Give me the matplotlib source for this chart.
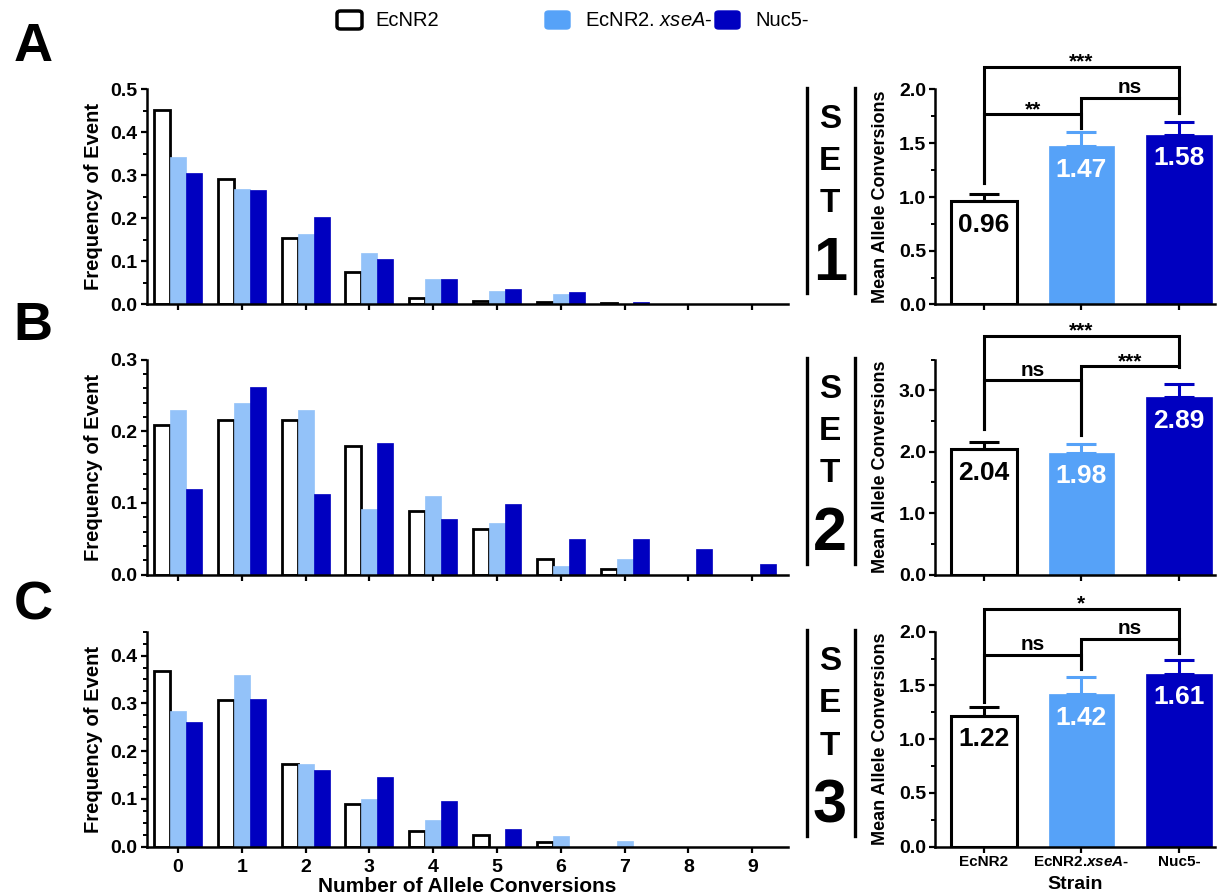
import matplotlib
matplotlib.use("Agg")
import matplotlib.pyplot as plt
import numpy as np
from matplotlib.patches import FancyBboxPatch
from matplotlib.lines import Line2D
from matplotlib.ticker import MultipleLocator, FormatStrFormatter

plt.rcParams['font.family'] = ['Liberation Sans', 'DejaVu Sans']
plt.rcParams['mathtext.fontset'] = 'custom'
plt.rcParams['mathtext.rm'] = 'Liberation Sans'
plt.rcParams['mathtext.it'] = 'Liberation Sans:italic'
plt.rcParams['mathtext.bf'] = 'Liberation Sans:bold'
plt.rcParams['mathtext.bfit'] = 'Liberation Sans:italic:bold'

# ---------------- data ----------------
conversions = [0, 1, 2, 3, 4, 5, 6, 7, 8, 9]
strains = ['EcNR2', 'EcNR2.xseA-', 'Nuc5-']
strain_tick_labels = ['EcNR2', r'EcNR2.$\mathbfit{xseA}$-', 'Nuc5-']
legend_labels = ['EcNR2', r'EcNR2. $\mathit{xseA}$-', 'Nuc5-']
set_names = ['1', '2', '3']
panel_letters = ['A', 'B', 'C']

set1_ecnr2 = [0.453, 0.293, 0.155, 0.076, 0.016, 0.008, 0.005, 0.004, 0, 0]
set1_xsea = [0.342, 0.269, 0.164, 0.120, 0.060, 0.031, 0.024, 0, 0, 0]
set1_nuc5 = [0.305, 0.266, 0.203, 0.105, 0.060, 0.036, 0.029, 0.005, 0, 0]

set2_ecnr2 = [0.209, 0.216, 0.216, 0.179, 0.089, 0.063, 0.022, 0.0075, 0, 0]
set2_xsea = [0.229, 0.239, 0.229, 0.092, 0.110, 0.072, 0.012, 0.022, 0, 0]
set2_nuc5 = [0.120, 0.261, 0.113, 0.183, 0.078, 0.099, 0.050, 0.050, 0.036, 0.015]

set3_ecnr2 = [0.367, 0.307, 0.174, 0.089, 0.032, 0.025, 0.010, 0, 0, 0]
set3_xsea = [0.283, 0.360, 0.174, 0.099, 0.056, 0, 0.023, 0.0125, 0, 0]
set3_nuc5 = [0.260, 0.310, 0.160, 0.145, 0.095, 0.038, 0, 0, 0, 0]

set1_mean = [0.96, 1.47, 1.58]
set1_sem = [0.066, 0.135, 0.115]
set2_mean = [2.04, 1.98, 2.89]
set2_sem = [0.12, 0.14, 0.21]
set3_mean = [1.22, 1.42, 1.61]
set3_sem = [0.08, 0.16, 0.13]

# significance brackets: (left bar, right bar, height, left leg end, right leg end, label)
set1_brackets = [(0, 2, 2.21, 1.13, 1.78, '***'), (0, 1, 1.77, 1.13, 1.64, '**'), (1, 2, 1.92, 1.64, 1.78, 'ns')]
set2_brackets = [(0, 2, 3.88, 2.37, 3.375, '***'), (0, 1, 3.16, 2.37, 2.27, 'ns'), (1, 2, 3.39, 2.27, 3.375, '***')]
set3_brackets = [(0, 2, 2.21, 1.35, 1.80, '*'), (0, 1, 1.78, 1.35, 1.65, 'ns'), (1, 2, 1.93, 1.65, 1.80, 'ns')]

freq_sets = [(set1_ecnr2, set1_xsea, set1_nuc5),
             (set2_ecnr2, set2_xsea, set2_nuc5),
             (set3_ecnr2, set3_xsea, set3_nuc5)]
means = [set1_mean, set2_mean, set3_mean]
sems = [set1_sem, set2_sem, set3_sem]
brackets = [set1_brackets, set2_brackets, set3_brackets]

# ---------------- styles ----------------
W, H = 1219, 896
fig = plt.figure(figsize=(W / 100, H / 100), dpi=100)

left_light = '#93C2F9'
right_light = '#56A2F8'
dark = '#0000C0'
left_cols = ['white', left_light, dark]
right_cols = ['white', right_light, dark]

left_ylims = [0.5, 0.3, 0.45]
left_minor = [0.05, 0.02, 0.025]
right_ylims = [2.0, 3.5, 2.0]
right_major = [0.5, 1.0, 0.5]
right_minor = [0.25, 0.5, 0.25]

axes_tops = [89.5, 359.5, 631.7]
letter_y = [47, 326, 605]
ax_h = 215.0

def fx(px):
    return px / W

def fy(py):
    return 1 - py / H

def style_axis(ax, labelsize):
    for s in ['top', 'right']:
        ax.spines[s].set_visible(False)
    for s in ['left', 'bottom']:
        ax.spines[s].set_linewidth(1.8)
    ax.tick_params(which='major', direction='out', length=4.5, width=1.6,
                   labelsize=labelsize)
    ax.tick_params(which='minor', direction='out', length=3, width=1.4)
    for lab in ax.get_yticklabels() + ax.get_xticklabels():
        lab.set_fontweight('bold')

offsets = [-0.25, 0.0, 0.25]
bar_w = 0.25

for p in range(3):
    top = axes_tops[p]
    # ---------- left histogram ----------
    axl = fig.add_axes([fx(146.7), fy(top + ax_h), fx(788 - 146.7), ax_h / H])
    x = np.array(conversions, dtype=float)
    for k in range(3):
        vals = np.array(freq_sets[p][k], dtype=float)
        m = vals > 0
        if k == 0:
            axl.bar(x[m] + offsets[k], vals[m], width=bar_w, facecolor='white',
                    edgecolor='black', linewidth=2.0, zorder=2)
        else:
            axl.bar(x[m] + offsets[k], vals[m], width=bar_w, color=left_cols[k],
                    edgecolor=left_cols[k], linewidth=0.5, zorder=2)
    axl.set_xlim(-0.49, 9.56)
    axl.set_ylim(0, left_ylims[p])
    axl.set_xticks(conversions)
    axl.yaxis.set_major_locator(MultipleLocator(0.1))
    axl.yaxis.set_minor_locator(MultipleLocator(left_minor[p]))
    axl.yaxis.set_major_formatter(FormatStrFormatter('%.1f'))
    style_axis(axl, 14)
    axl.tick_params(axis='y', pad=2)
    axl.tick_params(axis='x', pad=4)
    if p < 2:
        axl.set_xticklabels([])
    else:
        axl.set_xticklabels([str(c) for c in conversions], fontweight='bold')
        axl.set_xlabel('Number of Allele Conversions', fontsize=15,
                       fontweight='bold')
        axl.xaxis.set_label_coords(0.5, -0.14)
        axl.xaxis.label.set_va('top')
    axl.set_ylabel('Frequency of Event', fontsize=14.5, fontweight='bold')
    axl.yaxis.set_label_coords(-0.068, 0.5)

    # ---------- right mean bars ----------
    axr = fig.add_axes([fx(935), fy(top + ax_h), fx(1215 - 935), ax_h / H])
    xs = np.arange(3)
    mv = means[p]
    sv = sems[p]
    for k in range(3):
        if k == 0:
            axr.bar(xs[k], mv[k], width=0.675, facecolor='white',
                    edgecolor='black', linewidth=2.2, zorder=2)
            ec = 'black'
        else:
            axr.bar(xs[k], mv[k], width=0.675, color=right_cols[k],
                    edgecolor=right_cols[k], linewidth=0.5, zorder=2)
            ec = right_cols[k]
        axr.errorbar(xs[k], mv[k], yerr=[[0], [sv[k]]], fmt='none', ecolor=ec,
                     elinewidth=2.2, capsize=11, capthick=2.2, zorder=3)
        axr.annotate(f'{mv[k]:.2f}', (xs[k], mv[k]), xytext=(0, -17),
                     textcoords='offset points', ha='center', va='center',
                     fontsize=19, fontweight='bold',
                     color='black' if k == 0 else 'white', zorder=4)
    for (i, j, h, li, lj, lab) in brackets[p]:
        axr.plot([i, i, j, j], [li, h, h, lj], color='black', lw=2.2,
                 clip_on=False, zorder=3, solid_joinstyle='miter')
        dy = 3.5 if lab == 'ns' else -0.5
        axr.annotate(lab, ((i + j) / 2, h), xytext=(0, dy),
                     textcoords='offset points', ha='center',
                     va='baseline', fontsize=15, fontweight='bold',
                     annotation_clip=False)
    axr.set_xlim(-0.502, 2.37)
    axr.set_ylim(0, right_ylims[p])
    axr.set_xticks(xs)
    axr.yaxis.set_major_locator(MultipleLocator(right_major[p]))
    axr.yaxis.set_minor_locator(MultipleLocator(right_minor[p]))
    axr.yaxis.set_major_formatter(FormatStrFormatter('%.1f'))
    style_axis(axr, 14)
    axr.tick_params(axis='y', pad=2)
    axr.tick_params(axis='x', pad=1.5)
    if p < 2:
        axr.set_xticklabels([])
    else:
        axr.set_xticklabels(strain_tick_labels, fontsize=11, fontweight='bold')
        axr.set_xlabel('Strain', fontsize=14, fontweight='bold')
        axr.xaxis.set_label_coords(0.5, -0.135)
        axr.xaxis.label.set_va('top')
    axr.set_ylabel('Mean Allele Conversions', fontsize=13, fontweight='bold')
    axr.yaxis.set_label_coords(-0.164, 0.5)

    # ---------- SET label ----------
    for lx in [807, 855]:
        fig.add_artist(Line2D([fx(lx), fx(lx)], [fy(top - 1.5), fy(top + 204)],
                              transform=fig.transFigure, color='black', lw=2.4))
    for txt, dy, fs in [('S', 30, 24), ('E', 72, 24), ('T', 114.5, 24),
                        (set_names[p], 175, 44)]:
        fig.text(fx(830), fy(top + dy), txt, ha='center', va='center',
                 fontsize=fs, fontweight='bold')

    # ---------- panel letter ----------
    fig.text(fx(33), fy(letter_y[p]), panel_letters[p], ha='center', va='center',
             fontsize=39, fontweight='bold')

# ---------------- legend ----------------
legend_boxes = [337, 545, 715]
legend_text_x = [375, 585, 755]
for k in range(3):
    fc = 'white' if k == 0 else right_cols[k]
    ecl = 'black' if k == 0 else right_cols[k]
    box = FancyBboxPatch((fx(legend_boxes[k]), fy(29)), fx(25), 18 / H,
                         boxstyle='round,pad=0,rounding_size=0.003',
                         transform=fig.transFigure, facecolor=fc,
                         edgecolor=ecl, linewidth=2.5 if k == 0 else 1)
    fig.add_artist(box)
    fig.text(fx(legend_text_x[k]), fy(20), legend_labels[k], ha='left',
             va='center', fontsize=14.5)

fig.savefig('out.png', dpi=100)
